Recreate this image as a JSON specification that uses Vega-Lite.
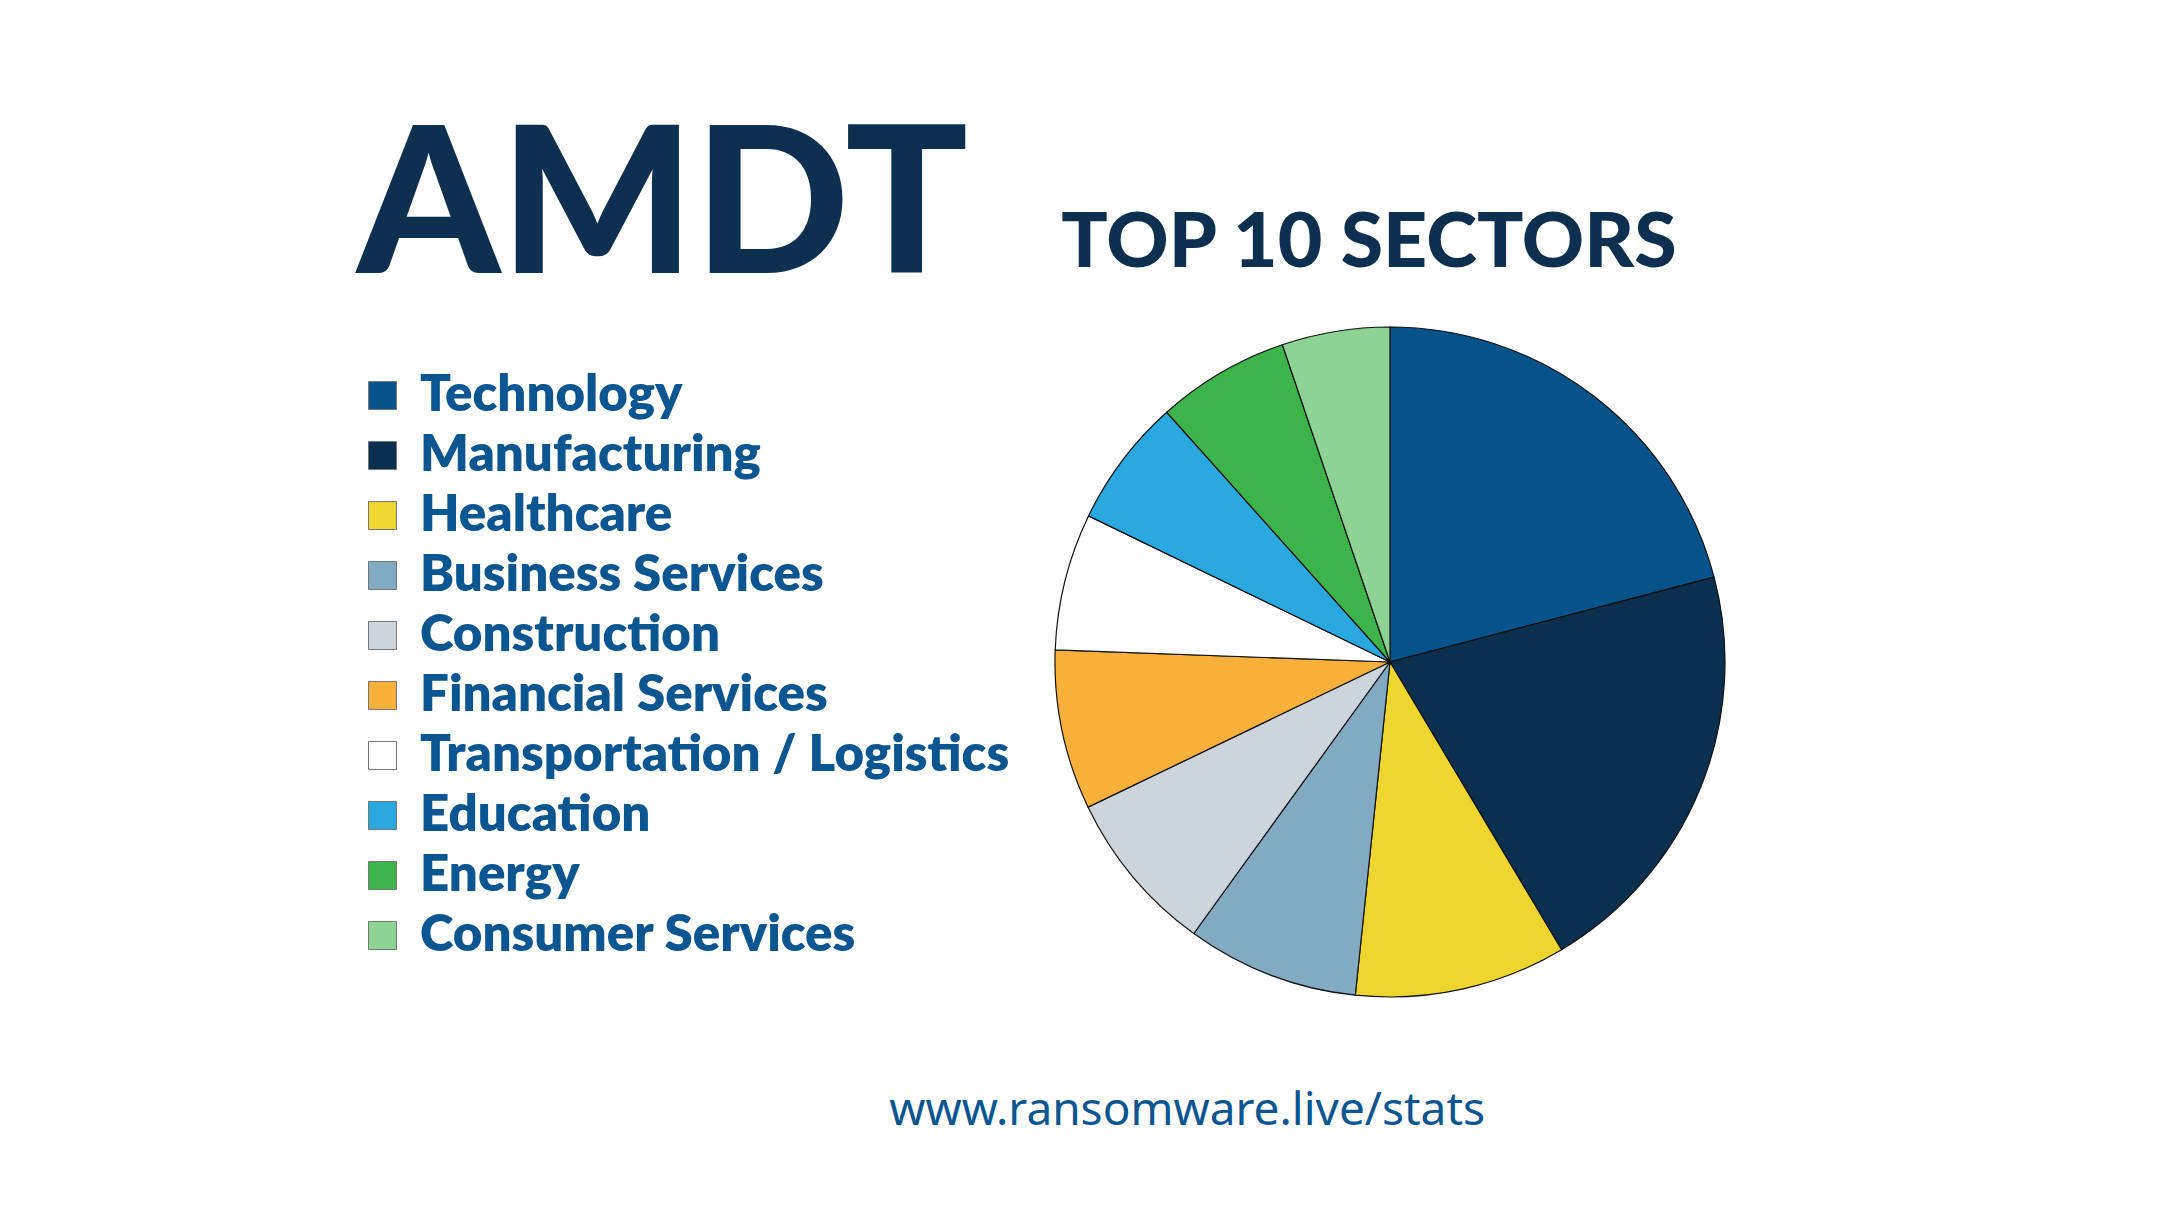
{
  "$schema": "https://vega.github.io/schema/vega-lite/v6.json",
  "background": "#ffffff",
  "padding": {"left": 357, "top": 112, "right": 40, "bottom": 60},
  "config": {"view": {"stroke": null}},
  "title": {
    "text": "www.ransomware.live/stats",
    "orient": "bottom",
    "anchor": "middle",
    "font": "Noto Sans",
    "fontSize": 46,
    "fontWeight": 400,
    "color": "#0b5590",
    "offset": 90,
    "dx": 145
  },
  "vconcat": [
    {
      "width": 670,
      "height": 670,
      "title": {
        "text": "TOP 10 SECTORS",
        "anchor": "middle",
        "font": "Lato",
        "fontSize": 77,
        "fontWeight": 900,
        "color": "#0d3050",
        "offset": 42,
        "dx": -21
      },
      "data": {
        "values": [
          {"rank": 1, "sector": "Technology", "share": 20.9},
          {"rank": 2, "sector": "Manufacturing", "share": 20.5},
          {"rank": 3, "sector": "Healthcare", "share": 10.2},
          {"rank": 4, "sector": "Business Services", "share": 8.3},
          {"rank": 5, "sector": "Construction", "share": 7.9},
          {"rank": 6, "sector": "Financial Services", "share": 7.7},
          {"rank": 7, "sector": "Transportation / Logistics", "share": 6.6},
          {"rank": 8, "sector": "Education", "share": 6.2},
          {"rank": 9, "sector": "Energy", "share": 6.4},
          {"rank": 10, "sector": "Consumer Services", "share": 5.2}
        ]
      },
      "mark": {"type": "arc", "stroke": "#111111", "strokeWidth": 1.2},
      "encoding": {
        "theta": {"field": "share", "type": "quantitative", "stack": true},
        "order": {"field": "rank", "type": "quantitative", "sort": "ascending"},
        "color": {
          "field": "sector",
          "type": "nominal",
          "sort": ["Technology", "Manufacturing", "Healthcare", "Business Services", "Construction", "Financial Services", "Transportation / Logistics", "Education", "Energy", "Consumer Services"],
          "scale": {
            "domain": ["Technology", "Manufacturing", "Healthcare", "Business Services", "Construction", "Financial Services", "Transportation / Logistics", "Education", "Energy", "Consumer Services"],
            "range": ["#06528b", "#0b2f4f", "#efd52f", "#82aac3", "#cdd5dc", "#f9b13c", "#ffffff", "#2aa9e0", "#3cb44a", "#8dd494"]
          },
          "legend": {
            "orient": "none",
            "legendX": -698,
            "legendY": -215,
            "padding": 0,
            "title": "AMDT",
            "titleFont": "Lato",
            "titleFontSize": 204,
            "titleFontWeight": 900,
            "titleColor": "#0d3050",
            "titlePadding": 54,
            "titleLimit": 0,
            "symbolType": "square",
            "symbolSize": 784,
            "symbolStrokeColor": "#777777",
            "symbolStrokeWidth": 1,
            "symbolOpacity": 1,
            "labelFont": "Lato",
            "labelFontSize": 51,
            "labelFontWeight": 800,
            "labelColor": "#0b5590",
            "labelOffset": 12,
            "labelLimit": 0,
            "rowPadding": 8
          }
        }
      }
    }
  ]
}
